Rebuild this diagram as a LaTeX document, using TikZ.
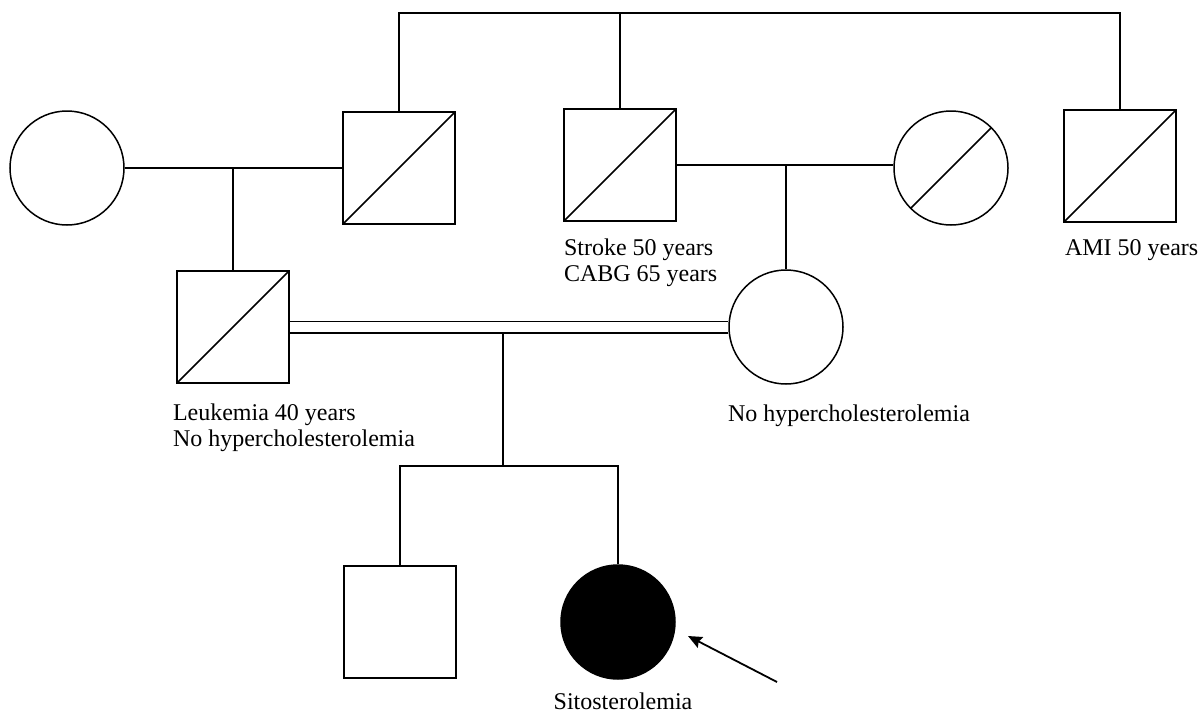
\documentclass[tikz,border=0pt]{standalone}
\usepackage{fontspec}
\setmainfont{Liberation Serif}
\usetikzlibrary{arrows.meta, positioning}

\begin{document}
\begin{tikzpicture}[x=1pt, y=-1pt, line width=1.5pt, font=\fontsize{24}{26}\selectfont]

	% --- STYLES ---
	\tikzstyle{male} = [rectangle, draw=black, minimum width=112pt, minimum height=112pt, inner sep=0pt]
	\tikzstyle{female} = [circle, draw=black, minimum size=114pt, inner sep=0pt]
	\tikzstyle{deceased} = [path picture={\draw[line width=1.5pt] (path picture bounding box.south west) -- (path picture bounding box.north east);}]
	\tikzstyle{affected} = [fill=black]
	\tikzstyle{note} = [align=left, inner sep=0pt, anchor=north west]
	\tikzstyle{arrow} = [line width=1.8pt, -{Stealth[length=14pt, width=12pt, inset=2pt]}]

	\useasboundingbox (0,0) rectangle (1204,712);

	% --- GENERATION I ---
	\node (gI_f1) [female] at (67,168) {};
	\node (gI_m1) [male, deceased] at (399,168) {};
	\node (gI_m2) [male, deceased] at (620,165) {};
	\node (gI_f2) [female, deceased] at (951,168) {};
	\node (gI_m3) [male, deceased] at (1120,166) {};

	% --- GENERATION II ---
	\node (gII_m) [male, deceased] at (233,327) {};
	\node (gII_f) [female] at (786,327) {};

	% --- GENERATION III ---
	\node (gIII_m) [male] at (400,622) {};
	\node (gIII_f) [female, affected] at (618,622) {};

	% --- LABELS ---
	\node (lbl_m2) [note] at ([yshift=-16pt]gI_m2.south west) {Stroke 50 years\\CABG 65 years};
	\node (lbl_m3) [note] at ([yshift=-16pt, xshift=1pt]gI_m3.south west) {AMI 50 years};
	\node (lbl_gIIm) [note] at ([yshift=-19pt, xshift=-4pt]gII_m.south west) {Leukemia 40 years\\No hypercholesterolemia};
	\node (lbl_gIIf) [note] at ([yshift=-19pt, xshift=-1pt]gII_f.west |- gII_f.south) {No hypercholesterolemia};
	\node (lbl_gIIIf) [note, anchor=north] at ([yshift=-12pt, xshift=5pt]gIII_f.south) {Sitosterolemia};

	% --- CONNECTORS ---
	\coordinate (top) at (0,13);
	\coordinate (sibs) at (503,466);
	\coordinate (cons) at (503,332.6);
	\coordinate (ptr_tail) at (777,682);
	\coordinate (ptr_tip) at (688,636);

	% sibship of generation I
	\draw (gI_m1.north) |- (gI_m3.north |- top) -- (gI_m3.north);
	\draw (gI_m2.north) -- (gI_m2.north |- top);

	% couples and their children
	\draw (gI_f1.east) -- (gI_m1.west);
	\draw (gII_m.north) -- (gII_m.north |- gI_f1.east);
	\draw (gI_m2.east) -- (gI_m2.east -| gI_f2.west);
	\draw (gII_f.north) -- (gII_f.north |- gI_m2.east);

	% consanguineous couple
	\draw [double, double distance=10pt] (gII_m.east) -- (gII_f.west);
	\draw (cons) -- (sibs);
	\draw (gIII_m.north) |- (sibs) -| (gIII_f.north);

	% proband
	\draw [arrow] (ptr_tail) -- (ptr_tip);

\end{tikzpicture}
\end{document}
